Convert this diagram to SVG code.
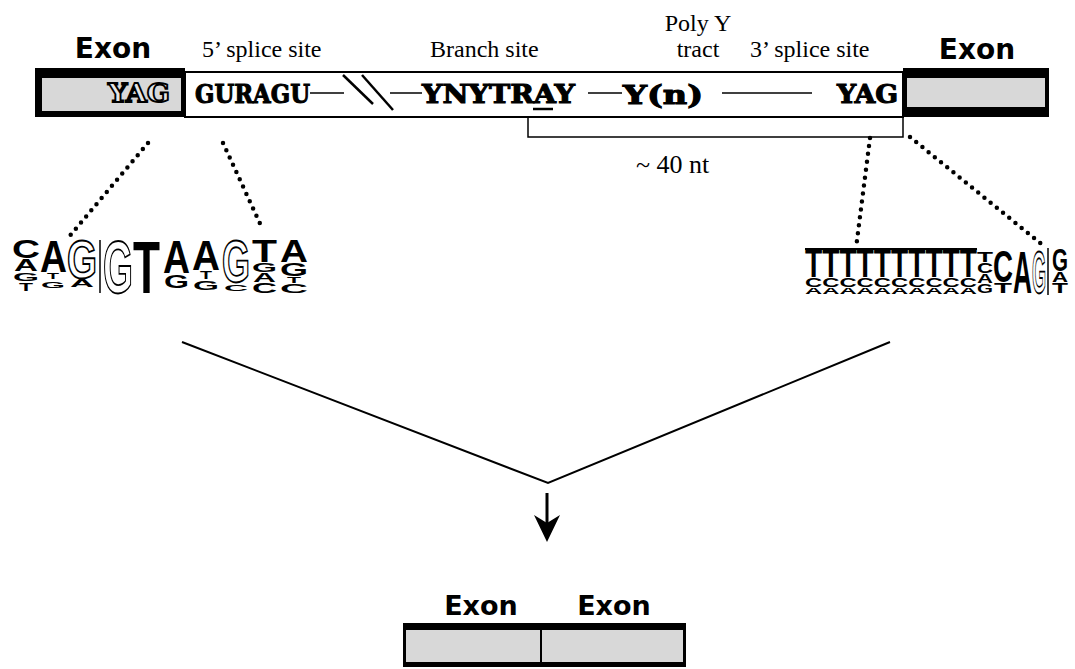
<svg xmlns="http://www.w3.org/2000/svg" width="1075" height="669" viewBox="0 0 1075 669">
<style>
.lab{font-family:"Liberation Serif","Times New Roman",serif;font-size:24px;fill:#000}
.exon{font-family:"DejaVu Sans",Verdana,sans-serif;font-weight:bold;font-size:28px;fill:#000;text-anchor:middle}
.seq{font-family:"DejaVu Serif","Liberation Serif",serif;font-weight:bold;font-size:26px;fill:#000;stroke:#000;stroke-width:1.1}
.gray{fill:#d8d8d8}
.blk{fill:#000}
.lg{font-family:"Liberation Sans",Arial,sans-serif;font-weight:bold;font-size:10px;fill:#000}
.ol{fill:#fff;stroke:#000;stroke-width:1.3;vector-effect:non-scaling-stroke}
.dot{fill:none;stroke:#000;stroke-width:4.5;stroke-linecap:round;stroke-dasharray:0 8}
.ln{stroke:#000;stroke-width:1.5;fill:none}
.vl{stroke:#000;stroke-width:2;fill:none}
</style>

<!-- top labels -->
<g id="labels">
  <text class="exon" x="113" y="58">Exon</text>
  <text class="lab" x="202" y="57">5’ splice site</text>
  <text class="lab" x="430" y="57">Branch site</text>
  <text class="lab" x="698" y="31" text-anchor="middle">Poly Y</text>
  <text class="lab" x="698" y="57" text-anchor="middle">tract</text>
  <text class="lab" x="750" y="57">3’ splice site</text>
  <text class="exon" x="977" y="59">Exon</text>
</g>

<!-- left exon -->
<g id="exon-left">
  <rect class="blk" x="35" y="68" width="150" height="49"/>
  <rect class="gray" x="42" y="78" width="139" height="33"/>
  <text class="seq" x="108" y="102" textLength="62" lengthAdjust="spacingAndGlyphs" style="fill:#e6e6e6;stroke:#000;stroke-width:1.8">YAG</text>
</g>

<!-- intron -->
<g id="intron">
  <rect x="185" y="72" width="718" height="45" fill="#fff" stroke="#000" stroke-width="2"/>
  <text class="seq" x="195" y="103" textLength="115" lengthAdjust="spacingAndGlyphs">GURAGU</text>
  <line class="ln" x1="310" y1="93" x2="344" y2="93"/>
  <line class="ln" x1="343" y1="75" x2="373" y2="104" style="stroke-width:2.5"/>
  <line class="ln" x1="362" y1="75" x2="393" y2="110" style="stroke-width:2.5"/>
  <line class="ln" x1="390" y1="93" x2="422" y2="93"/>
  <text class="seq" x="422" y="103" textLength="153" lengthAdjust="spacingAndGlyphs">YNYTRAY</text>
  <line x1="533" y1="109" x2="553" y2="109" stroke="#000" stroke-width="2.5"/>
  <line class="ln" x1="588" y1="93" x2="622" y2="93"/>
  <text class="seq" x="623" y="104" textLength="80" lengthAdjust="spacingAndGlyphs">Y(n)</text>
  <line class="ln" x1="722" y1="93" x2="812" y2="93"/>
  <text class="seq" x="837" y="103" textLength="61" lengthAdjust="spacingAndGlyphs">YAG</text>
</g>

<!-- right exon -->
<g id="exon-right">
  <rect class="blk" x="903" y="68" width="146" height="49"/>
  <rect class="gray" x="907" y="78" width="138" height="29"/>
</g>

<!-- bracket -->
<g id="bracket">
  <polyline class="ln" points="528,117 528,137 903,137 903,117"/>
  <text class="lab" x="636" y="173" style="font-size:26px">~ 40 nt</text>
</g>

<!-- 5' logo -->
<g id="logo-5">
  <text class="lg" transform="translate(12,258) scale(1,2.51)" textLength="28" lengthAdjust="spacingAndGlyphs">C</text>
  <text class="lg" transform="translate(14,271) scale(1,1.68)" textLength="24" lengthAdjust="spacingAndGlyphs">A</text>
  <text class="lg" transform="translate(13,281) scale(1,1.12)" textLength="26" lengthAdjust="spacingAndGlyphs">G</text>
  <text class="lg" transform="translate(19,291) scale(1,1.12)" textLength="14" lengthAdjust="spacingAndGlyphs">T</text>
  <text class="lg" transform="translate(40,272) scale(1,4.47)" textLength="27" lengthAdjust="spacingAndGlyphs">A</text>
  <text class="lg" transform="translate(47,279) scale(1,0.84)" textLength="12" lengthAdjust="spacingAndGlyphs">T</text>
  <text class="lg" transform="translate(41,288) scale(1,0.98)" textLength="24" lengthAdjust="spacingAndGlyphs">G</text>
  <text class="lg ol" transform="translate(67,278) scale(1,5.31)" textLength="30" lengthAdjust="spacingAndGlyphs">G</text>
  <text class="lg" transform="translate(70,287) scale(1,1.12)" textLength="24" lengthAdjust="spacingAndGlyphs">A</text>
  <line x1="100" y1="240" x2="100" y2="293" stroke="#000" stroke-width="1.5"/>
  <text class="lg ol" transform="translate(103,293) scale(1,7.4)" textLength="30" lengthAdjust="spacingAndGlyphs">G</text>
  <text class="lg" transform="translate(133,293) scale(1,7.4)" textLength="27" lengthAdjust="spacingAndGlyphs">T</text>
  <text class="lg" transform="translate(163,273) scale(1,4.61)" textLength="27" lengthAdjust="spacingAndGlyphs">A</text>
  <text class="lg" transform="translate(164,288) scale(1,1.82)" textLength="25" lengthAdjust="spacingAndGlyphs">G</text>
  <text class="lg" transform="translate(192,270) scale(1,4.19)" textLength="28" lengthAdjust="spacingAndGlyphs">A</text>
  <text class="lg" transform="translate(200,279) scale(1,1.12)" textLength="12" lengthAdjust="spacingAndGlyphs">T</text>
  <text class="lg" transform="translate(193,290) scale(1,1.26)" textLength="26" lengthAdjust="spacingAndGlyphs">G</text>
  <text class="lg ol" transform="translate(222,282) scale(1,5.87)" textLength="28" lengthAdjust="spacingAndGlyphs">G</text>
  <text class="lg" transform="translate(224,291) scale(1,0.98)" textLength="24" lengthAdjust="spacingAndGlyphs">C</text>
  <text class="lg" transform="translate(252,262) scale(1,3.07)" textLength="25" lengthAdjust="spacingAndGlyphs">T</text>
  <text class="lg" transform="translate(252,272) scale(1,1.26)" textLength="25" lengthAdjust="spacingAndGlyphs">G</text>
  <text class="lg" transform="translate(253,282) scale(1,1.26)" textLength="23" lengthAdjust="spacingAndGlyphs">A</text>
  <text class="lg" transform="translate(252,293) scale(1,1.4)" textLength="25" lengthAdjust="spacingAndGlyphs">C</text>
  <text class="lg" transform="translate(280,262) scale(1,3.07)" textLength="28" lengthAdjust="spacingAndGlyphs">A</text>
  <text class="lg" transform="translate(280,276) scale(1,1.82)" textLength="28" lengthAdjust="spacingAndGlyphs">G</text>
  <text class="lg" transform="translate(287,283) scale(1,0.84)" textLength="14" lengthAdjust="spacingAndGlyphs">T</text>
  <text class="lg" transform="translate(280,293) scale(1,1.26)" textLength="28" lengthAdjust="spacingAndGlyphs">C</text>
</g>

<!-- 3' logo -->
<g id="logo-3">
  <line x1="805" y1="249" x2="977" y2="249" stroke="#000" stroke-width="2"/>
  <text class="lg" transform="translate(805,277) scale(1,4.05)" textLength="172" lengthAdjust="spacingAndGlyphs">TTTTTTTTTT</text>
  <text class="lg" transform="translate(805,287) scale(1,1.26)" textLength="172" lengthAdjust="spacingAndGlyphs">CCCCCCCCCC</text>
  <text class="lg" transform="translate(805,294) scale(1,0.84)" textLength="172" lengthAdjust="spacingAndGlyphs">AAAAAAAAAA</text>
  <text class="lg" transform="translate(977,262) scale(1,1.4)" textLength="16" lengthAdjust="spacingAndGlyphs">T</text>
  <text class="lg" transform="translate(977,273) scale(1,1.4)" textLength="16" lengthAdjust="spacingAndGlyphs">C</text>
  <text class="lg" transform="translate(977,283) scale(1,1.26)" textLength="16" lengthAdjust="spacingAndGlyphs">A</text>
  <text class="lg" transform="translate(977,293) scale(1,1.26)" textLength="16" lengthAdjust="spacingAndGlyphs">G</text>
  <text class="lg" transform="translate(993,282) scale(1,4.47)" textLength="20" lengthAdjust="spacingAndGlyphs">C</text>
  <text class="lg" transform="translate(994,293) scale(1,1.4)" textLength="18" lengthAdjust="spacingAndGlyphs">T</text>
  <text class="lg" transform="translate(1013,293) scale(1,6.0)" textLength="19" lengthAdjust="spacingAndGlyphs">A</text>
  <text class="lg ol" transform="translate(1032,293) scale(1,6.0)" textLength="14" lengthAdjust="spacingAndGlyphs">G</text>
  <line x1="1048" y1="248" x2="1048" y2="295" stroke="#000" stroke-width="1.5"/>
  <text class="lg" transform="translate(1052,271) scale(1,3.21)" textLength="16" lengthAdjust="spacingAndGlyphs">G</text>
  <text class="lg" transform="translate(1052,282) scale(1,1.4)" textLength="16" lengthAdjust="spacingAndGlyphs">A</text>
  <text class="lg" transform="translate(1052,293) scale(1,1.4)" textLength="16" lengthAdjust="spacingAndGlyphs">T</text>
</g>

<!-- connectors -->
<g id="connectors">
  <line class="dot" x1="148" y1="143" x2="68" y2="238"/>
  <line class="dot" x1="223" y1="143" x2="263" y2="230"/>
  <line class="dot" x1="870" y1="138" x2="856" y2="248"/>
  <line class="dot" x1="910" y1="137" x2="1045" y2="247"/>
  <polyline class="vl" points="182,342 548,483 890,342"/>
  <line x1="547" y1="493" x2="547" y2="532" stroke="#000" stroke-width="3"/>
  <polygon points="534,515 547,542 560,515 547,523" fill="#000"/>
</g>

<!-- spliced product -->
<g id="product">
  <text class="exon" x="481" y="615" style="font-size:27px">Exon</text>
  <text class="exon" x="614" y="615" style="font-size:27px">Exon</text>
  <rect class="blk" x="403" y="623" width="283" height="44"/>
  <rect class="gray" x="406" y="630" width="134" height="32"/>
  <rect class="gray" x="542" y="630" width="141" height="32"/>
</g>
</svg>
